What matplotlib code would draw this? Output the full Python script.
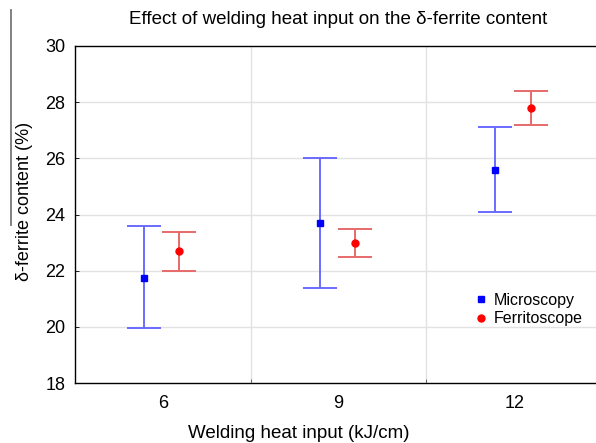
import numpy as np
import matplotlib
matplotlib.use('Agg')
from matplotlib import pyplot as plt
from matplotlib.lines import Line2D

plt.rcParams['font.family'] = ['Liberation Sans', 'DejaVu Sans']

# data
heat_input = [6, 9, 12]
micro_mean = [21.75, 23.7, 25.6]
micro_low = [19.95, 21.38, 24.08]
micro_high = [23.58, 26.0, 27.1]
ferri_mean = [22.7, 22.98, 27.8]
ferri_low = [21.98, 22.48, 27.2]
ferri_high = [23.38, 23.48, 28.4]

x = np.array(heat_input, dtype=float)
micro_mean = np.array(micro_mean)
ferri_mean = np.array(ferri_mean)
micro_err = [micro_mean - np.array(micro_low), np.array(micro_high) - micro_mean]
ferri_err = [ferri_mean - np.array(ferri_low), np.array(ferri_high) - ferri_mean]

fig = plt.figure(figsize=(5.96, 4.43), dpi=100)
ax = fig.add_axes([75 / 596, 1 - 383 / 443, 527 / 596, 337 / 443])

# light gridlines
for yv in [20, 22, 24, 26, 28]:
    ax.axhline(yv, color='#e2e2e2', lw=1, zorder=0)
for xv in [7.5, 10.5]:
    ax.axvline(xv, color='#e2e2e2', lw=1, zorder=0)

ax.errorbar(x - 0.32, micro_mean, yerr=micro_err, fmt='none', ecolor='#6a6aff',
            elinewidth=1.4, capsize=12.5, capthick=1.4, zorder=2)
ax.errorbar(x + 0.28, ferri_mean, yerr=ferri_err, fmt='none', ecolor='#e86a6a',
            elinewidth=1.4, capsize=12.5, capthick=1.4, zorder=2)
ax.plot(x - 0.32, micro_mean, 's', color='#0000ff', ms=5, zorder=3)
ax.plot(x + 0.28, ferri_mean, 'o', color='#ff0000', ms=5, zorder=3)

ax.set_xlim(4.5, 13.5)
ax.set_ylim(18, 30)
ax.set_yticks([18, 20, 22, 24, 26, 28, 30])
ax.set_xticks(heat_input)
ax.set_xticks([7.5, 10.5], minor=True)
ax.tick_params(axis='x', which='major', length=0, pad=9, labelsize=13)
ax.tick_params(axis='x', which='minor', direction='in', length=3, width=0.6, color='#555555')
ax.tick_params(axis='y', direction='in', length=3, width=0.6, pad=7, labelsize=13)
for s in ax.spines.values():
    s.set_linewidth(1.0)

ax.set_xlabel('Welding heat input (kJ/cm)', fontsize=13.5)
ax.xaxis.set_label_coords(0.425, -0.125)
ax.set_ylabel('δ-ferrite content (%)', fontsize=13)
ax.yaxis.set_label_coords(-0.08, 0.54)
ax.set_title('Effect of welding heat input on the δ-ferrite content', fontsize=13.5, pad=16)

handles = [Line2D([], [], marker='s', color='#0000ff', ls='none', ms=5),
           Line2D([], [], marker='o', color='#ff0000', ls='none', ms=5)]
ax.legend(handles, ['Microscopy', 'Ferritoscope'], loc='upper left',
          bbox_to_anchor=(0.725, 0.31), frameon=False, fontsize=11.5,
          handletextpad=0.2, labelspacing=0.2, handlelength=1.2)

# stray vertical line at the left edge of the scanned figure
fig.add_artist(Line2D([11 / 596, 11 / 596], [1 - 10 / 443, 1 - 225 / 443],
                      color='#777777', lw=1.3))

fig.savefig('out.png', dpi=100)
